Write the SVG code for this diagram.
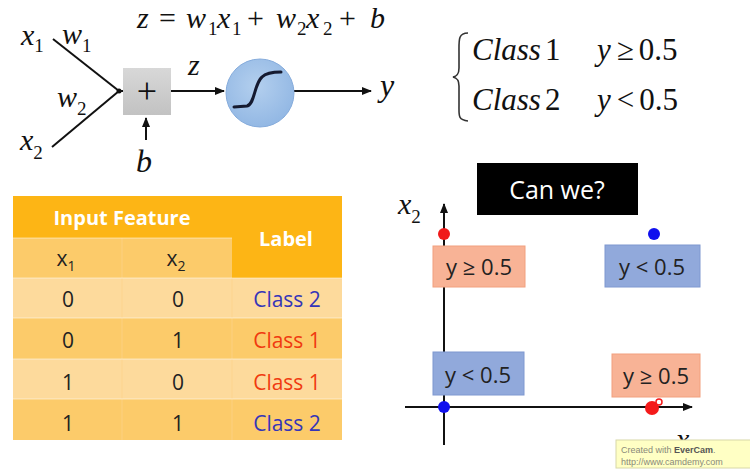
<svg xmlns="http://www.w3.org/2000/svg" width="750" height="470" viewBox="0 0 750 470">
<style>
.m{font-family:"Liberation Serif","Times New Roman",serif;font-style:italic;fill:#111}
.u{font-style:normal}
.s{font-family:"Open Sans","Liberation Sans",sans-serif}
.ln{stroke:#111;stroke-width:2;fill:none}
.hd{fill:#fff;font-weight:bold;font-size:20px}
.cell{font-size:21px;fill:#222;text-anchor:middle}
.c1{fill:#F03A10}
.c2{fill:#3535B8}
.bx{font-size:22px;fill:#222;text-anchor:middle}
.sal{fill:#F8B396;stroke:#F2A07E;stroke-width:1}
.blu{fill:#91A9DB;stroke:#7F98D0;stroke-width:1}
</style>
<defs>
<marker id="ah" viewBox="0 0 10 10" refX="9" refY="5" markerWidth="5" markerHeight="5" orient="auto">
<path d="M0,1 L10,5 L0,9 Z" fill="#111"/>
</marker>
<linearGradient id="gbox" x1="0" y1="0" x2="0" y2="1">
<stop offset="0" stop-color="#D8D8D8"/><stop offset="1" stop-color="#C2C2C2"/>
</linearGradient>
<radialGradient id="gcirc" cx="0.45" cy="0.4" r="0.6">
<stop offset="0" stop-color="#B3CFEE"/><stop offset="1" stop-color="#93B8E4"/>
</radialGradient>
</defs>
<rect width="750" height="470" fill="#fff"/>

<!-- equation -->
<g id="equation">
<text class="m" font-size="30" y="28"><tspan x="137">z</tspan><tspan class="u" x="159">=</tspan><tspan x="186">w</tspan><tspan class="u" x="208" y="35" font-size="19">1</tspan><tspan x="217" y="28">x</tspan><tspan class="u" x="232" y="35" font-size="19">1</tspan><tspan class="u" x="247" y="28">+</tspan><tspan x="276">w</tspan><tspan class="u" x="297" y="35" font-size="19">2</tspan><tspan x="306" y="28">x</tspan><tspan class="u" x="323" y="35" font-size="19">2</tspan><tspan class="u" x="339" y="28">+</tspan><tspan x="370">b</tspan></text>
</g>

<!-- connectors -->
<g id="connectors">
<path class="ln" d="M53,39 L119,91"/>
<path class="ln" d="M52,147 L119,91"/>
<path class="ln" d="M119,91 L123,91"/>
<path class="ln" d="M146,140 L146,118" marker-end="url(#ah)"/>
<path class="ln" d="M171,91 L224,91" marker-end="url(#ah)"/>
<path class="ln" d="M294,91 L371,91" marker-end="url(#ah)"/>
</g>

<g id="input-x1">
<text class="m" font-size="30" x="21" y="45">x<tspan class="u" font-size="19" dy="7">1</tspan></text>
<text class="m" font-size="30" x="62" y="44">w<tspan class="u" font-size="19" dy="8">1</tspan></text>
</g>
<g id="input-x2">
<text class="m" font-size="30" x="20" y="150">x<tspan class="u" font-size="19" dy="9">2</tspan></text>
<text class="m" font-size="30" x="57" y="107">w<tspan class="u" font-size="19" dy="8">2</tspan></text>
</g>
<g id="sum">
<circle cx="119" cy="91" r="2.5" fill="#111"/>
<rect x="123" y="68" width="48" height="47" fill="url(#gbox)"/>
<text x="147" y="103" font-family="Liberation Serif,serif" font-size="36" text-anchor="middle" fill="#111">+</text>
</g>
<g id="bias">
<text class="m" font-size="32" x="136" y="172">b</text>
</g>
<g id="z-label">
<text class="m" font-size="30" x="188" y="75">z</text>
</g>
<g id="sigmoid">
<circle cx="260" cy="93" r="34" fill="url(#gcirc)" stroke="#86ACDC" stroke-width="1"/>
<path d="M234,107 L247,106 C255,104 254,84 262,77 C266,73 274,72 281,72" fill="none" stroke="#151a30" stroke-width="3" stroke-linecap="round"/>
</g>
<g id="output-y">
<text class="m" font-size="32" x="380" y="96">y</text>
</g>

<!-- class rule -->
<g id="rule">
<path d="M468,33 C458,33 459,40 459,52 L459,68 C459,74 457,76 453,77 C457,78 459,80 459,86 L459,106 C459,116 458,120 468,121" fill="none" stroke="#333" stroke-width="1.6"/>
<text class="m" font-size="31" x="472" y="60">Class<tspan class="u" dx="4">1</tspan></text>
<text class="m" font-size="31" x="597" y="60">y<tspan class="u" dx="6">≥</tspan><tspan class="u" dx="5">0.5</tspan></text>
<text class="m" font-size="31" x="472" y="110">Class<tspan class="u" dx="4">2</tspan></text>
<text class="m" font-size="31" x="597" y="110">y<tspan class="u" dx="6">&lt;</tspan><tspan class="u" dx="5">0.5</tspan></text>
</g>

<!-- table -->
<g id="table" class="s">
<rect x="13" y="196" width="329" height="244" fill="#FCCB6A"/>
<rect x="13" y="196" width="329" height="42" fill="#FDB515"/>
<rect x="232" y="196" width="110" height="82" fill="#FDB515"/>
<rect x="13" y="238" width="219" height="40" fill="#FCCB6A"/>
<rect x="13" y="278" width="329" height="40" fill="#FDDA9C"/>
<rect x="13" y="318" width="329" height="41" fill="#FCCB6A"/>
<rect x="13" y="359" width="329" height="40" fill="#FDDA9C"/>
<rect x="13" y="399" width="329" height="41" fill="#FCCB6A"/>
<path d="M122,238 V440 M232,278 V440" stroke="#FDD48A" stroke-width="1" opacity="0.7"/>
<path d="M13,278 H342 M13,318 H342 M13,359 H342 M13,399 H342 M13,238 H232" stroke="#fff" stroke-width="1" opacity="0.5"/>
<text class="hd" x="122" y="225" text-anchor="middle">Input Feature</text>
<text class="hd" x="286" y="246" text-anchor="middle">Label</text>
<text class="cell" x="66" y="266">x<tspan font-size="14" dy="5">1</tspan></text>
<text class="cell" x="176" y="266">x<tspan font-size="14" dy="5">2</tspan></text>
<text class="cell" x="68" y="307">0</text><text class="cell" x="178" y="307">0</text><text class="cell c2" x="287" y="307">Class 2</text>
<text class="cell" x="68" y="348">0</text><text class="cell" x="178" y="348">1</text><text class="cell c1" x="287" y="348">Class 1</text>
<text class="cell" x="68" y="390">1</text><text class="cell" x="178" y="390">0</text><text class="cell c1" x="287" y="390">Class 1</text>
<text class="cell" x="68" y="431">1</text><text class="cell" x="178" y="431">1</text><text class="cell c2" x="287" y="431">Class 2</text>
</g>

<!-- can we -->
<g id="can-we">
<rect x="477" y="163" width="161" height="52" fill="#000"/>
<text class="s" x="557" y="199" font-size="25" fill="#fff" text-anchor="middle">Can we?</text>
</g>

<!-- plot -->
<g id="axes">
<path class="ln" d="M444,445 L444,204" marker-end="url(#ah)"/>
<path class="ln" d="M405,407 L692,407" marker-end="url(#ah)"/>
<text class="m" font-size="30" x="398" y="214">x<tspan class="u" font-size="19" dy="9">2</tspan></text>
<text class="m" font-size="30" x="676" y="449">x</text>
</g>
<g id="box-tl">
<rect class="sal" x="433" y="246" width="92" height="41"/>
<text class="s bx" x="479" y="275">y ≥ 0.5</text>
</g>
<g id="box-tr">
<rect class="blu" x="605" y="245" width="95" height="42"/>
<text class="s bx" x="652" y="275">y &lt; 0.5</text>
</g>
<g id="box-bl">
<rect class="blu" x="433" y="352" width="91" height="43"/>
<text class="s bx" x="478" y="383">y &lt; 0.5</text>
</g>
<g id="box-br">
<rect class="sal" x="612" y="354" width="88" height="43"/>
<text class="s bx" x="656" y="384">y ≥ 0.5</text>
</g>
<g id="points">
<circle cx="444" cy="234" r="6" fill="#F01A1A"/>
<circle cx="654" cy="234" r="6" fill="#1010EE"/>
<circle cx="444" cy="407" r="6" fill="#1010EE"/>
<circle cx="652" cy="408" r="7" fill="#F41A1A"/>
<circle cx="659" cy="402" r="3" fill="#fff" stroke="#F41A1A" stroke-width="1.5"/>
</g>

<!-- watermark -->
<g id="watermark">
<rect x="616" y="440" width="140" height="28" fill="#FFFFC4" stroke="#D8D8A8" stroke-width="1"/>
<text x="621" y="453" font-family="Liberation Sans,Arial,sans-serif" font-size="9" fill="#8A8A7A">Created with <tspan font-weight="bold" fill="#555">EverCam</tspan>.</text>
<text x="621" y="465" font-family="Liberation Sans,Arial,sans-serif" font-size="9" fill="#8A8A7A">http://www.camdemy.com</text>
</g>
</svg>
